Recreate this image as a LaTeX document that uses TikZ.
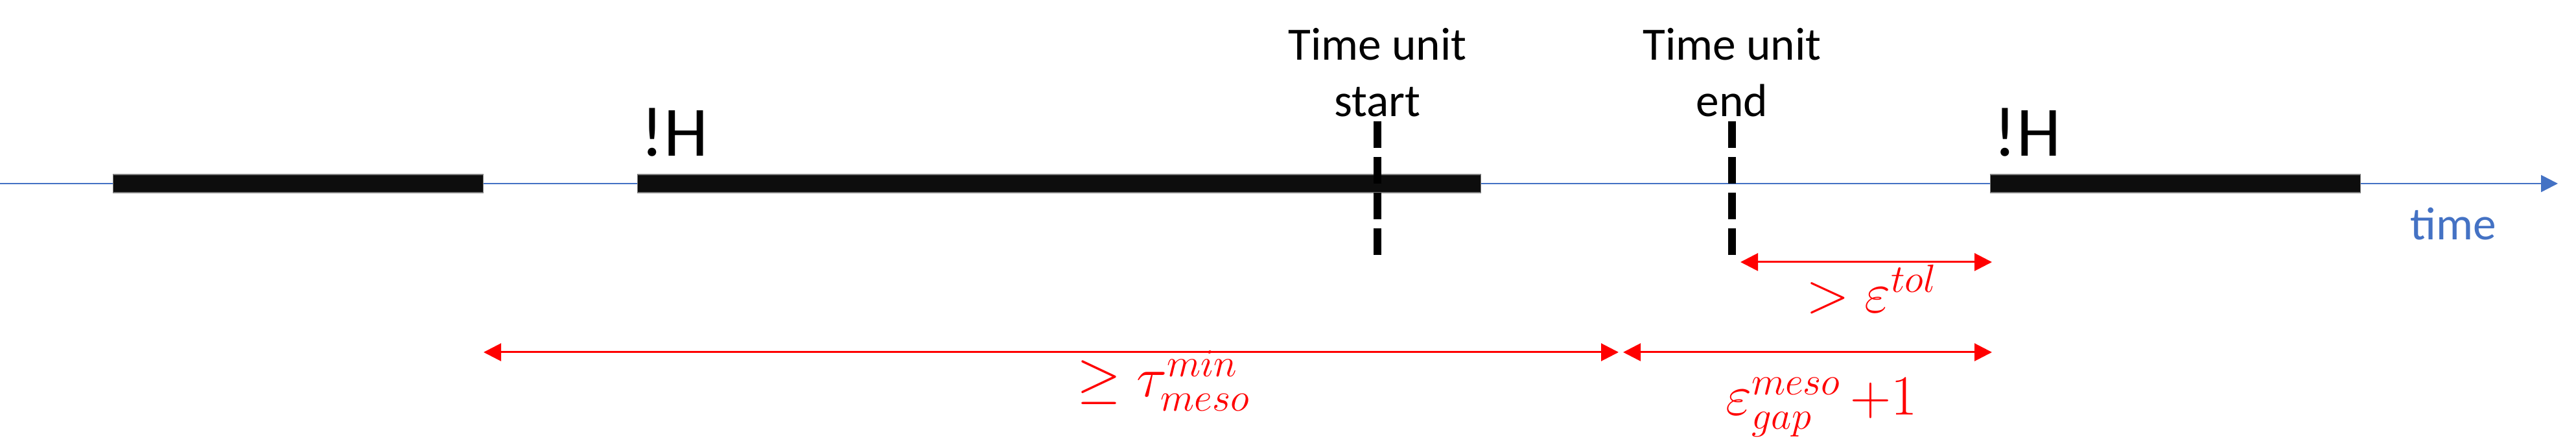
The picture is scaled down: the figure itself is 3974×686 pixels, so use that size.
\documentclass[tikz,border=0pt]{standalone}
\usepackage{fontspec}
\setmainfont{Carlito}
\usepackage{tikz}
\usetikzlibrary{%
    arrows.meta,
    positioning,
    calc
}
\definecolor{axisblue}{HTML}{4472C4}
\definecolor{barblack}{HTML}{0D0D0D}

\begin{document}
\begin{tikzpicture}[x=0.01cm, y=-0.01cm,
    bar/.style={draw=gray, line width=0.3pt, fill=barblack, inner sep=0, minimum height=0.28cm, anchor=west},
    marker/.style={line width=0.12cm, dash pattern=on 0.41cm off 0.14cm},
    span/.style={red, line width=0.85pt, {Triangle[length=0.27cm,width=0.27cm]}-{Triangle[length=0.27cm,width=0.27cm]}},
    lbl/.style={font=\fontsize{20.3}{25}\selectfont, inner sep=0},
    hlbl/.style={font=\fontsize{31}{36}\selectfont, inner sep=0, anchor=base west},
    dimlbl/.style={red, font=\fontsize{26}{30}\selectfont, inner sep=0, anchor=base}]
      \useasboundingbox (0,0) rectangle (3974,686);

      \coordinate (t0) at (0,283);
      \coordinate (t1) at (3946,283);
      \draw[axisblue, line width=0.7pt, -{Triangle[length=0.26cm,width=0.26cm]}] (t0) -- (t1);
      \node[lbl, axisblue, anchor=base] (tlbl) at (3785,370) {time};

      \node[bar, minimum width=5.71cm] (bar1) at (174,283) {};
      \node[bar, minimum width=13cm] (bar2) at (983,283) {};
      \node[bar, minimum width=5.71cm] (bar3) at (3070,283) {};

      \node[hlbl] (h2) at ([xshift=0.05cm, yshift=0.28cm]bar2.north west) {!H};
      \node[hlbl] (h3) at ([xshift=0.05cm, yshift=0.28cm]bar3.north west) {!H};

      \coordinate (s0) at (2125,187);
      \coordinate (s1) at (2125,393);
      \coordinate (e0) at (2672,187);
      \coordinate (e1) at (2672,393);
      \draw[marker] (s0) -- (s1);
      \draw[marker] (e0) -- (e1);

      \node[lbl, align=center, anchor=base] (tustart) at (2125,180) {Time unit\\start};
      \node[lbl, align=center, anchor=base] (tuend) at (2672,180) {Time unit\\end};

      \coordinate (a0) at (2685,404);
      \coordinate (a1) at (3073,404);
      \coordinate (b0) at (746,543);
      \coordinate (b1) at (2497,543);
      \coordinate (c0) at (2504,543);
      \coordinate (c1) at (3073,543);

      \draw[span] (a0) -- (a1);
      \draw[span] (b0) -- (b1);
      \draw[span] (c0) -- (c1);

      \node[dimlbl] (tol) at (2887,482) {$>\varepsilon^{tol}$};
      \node[dimlbl] (taumin) at (1795,612) {$\geq\tau_{meso}^{min}$};
      \node[dimlbl] (gap) at (2810,640) {$\varepsilon_{gap}^{meso}\,{+}1$};
    \end{tikzpicture}
\end{document}
